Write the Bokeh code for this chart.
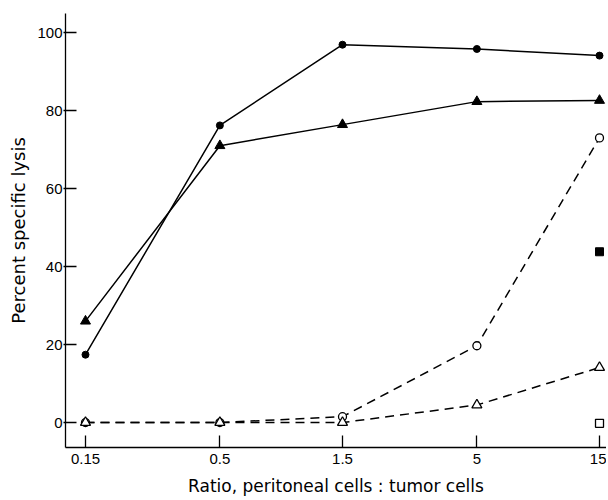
from bokeh.plotting import figure
from bokeh.models import FixedTicker
from bokeh.embed import file_html
from bokeh.resources import INLINE

ratio = [0.15, 0.5, 1.5, 5, 15]
filled_circle = [17.4, 76.2, 96.9, 95.8, 94.1]
filled_triangle = [26.0, 71.0, 76.4, 82.3, 82.6]
open_circle = [0.0, 0.0, 1.5, 19.7, 73.0]
open_triangle = [0.0, 0.0, 0.0, 4.5, 14.1]
sq_x = [15]
filled_square = [43.8]
open_square = [-0.2]
x_tick_labels = ["0.15", "0.5", "1.5", "5", "15"]
y_ticks = [0, 20, 40, 60, 80, 100]

TICK_FONT = "Liberation Sans"
TITLE_FONT = "DejaVu Sans"

p = figure(width=606, height=498, x_axis_type="log",
           x_range=(0.1254, 15.97), y_range=(-6.4, 104.9),
           output_backend="svg", toolbar_location=None,
           min_border_left=65, min_border_right=0, min_border_top=13, min_border_bottom=51)
p.outline_line_color = None
p.grid.visible = False
p.background_fill_color = "white"

# solid series
p.line(ratio, filled_circle, line_color="black", line_width=1.5)
p.scatter(ratio, filled_circle, marker="circle", size=7, fill_color="black", line_color="black")
p.line(ratio, filled_triangle, line_color="black", line_width=1.5)
p.scatter(ratio, filled_triangle, marker="triangle", size=10, fill_color="black", line_color="black")

# dashed series
p.line(ratio, open_circle, line_color="black", line_width=1.5, line_dash="9 6")
p.scatter(ratio, open_circle, marker="circle", size=8, fill_color="white", line_color="black", line_width=1.3)
p.line(ratio, open_triangle, line_color="black", line_width=1.5, line_dash="9 6")
p.scatter(ratio, open_triangle, marker="triangle", size=10, fill_color="white", line_color="black", line_width=1.3)

# squares
p.scatter(sq_x, filled_square, marker="square", size=8, fill_color="black", line_color="black")
p.scatter(sq_x, open_square, marker="square", size=8, fill_color="white", line_color="black", line_width=1.3)

xa = p.xaxis[0]
xa.ticker = FixedTicker(ticks=ratio, minor_ticks=[])
xa.major_label_overrides = {t: l for t, l in zip(ratio, x_tick_labels)}
xa.major_tick_in = 12
xa.major_tick_out = 0
xa.minor_tick_line_color = None
xa.axis_line_color = "black"
xa.major_tick_line_color = "black"
xa.axis_line_width = 1.3
xa.major_tick_line_width = 1.3
xa.major_label_standoff = 6
xa.major_label_text_font = TICK_FONT
xa.major_label_text_font_size = "15px"
xa.major_label_text_color = "black"
xa.axis_label = "Ratio, peritoneal cells : tumor cells"
xa.axis_label_text_font = TITLE_FONT
xa.axis_label_text_font_size = "17px"
xa.axis_label_text_font_style = "normal"
xa.axis_label_text_color = "black"
xa.axis_label_standoff = 9

ya = p.yaxis[0]
ya.ticker = FixedTicker(ticks=y_ticks, minor_ticks=[])
ya.major_tick_in = 11
ya.major_tick_out = 2
ya.minor_tick_line_color = None
ya.axis_line_color = "black"
ya.major_tick_line_color = "black"
ya.axis_line_width = 1.3
ya.major_tick_line_width = 1.3
ya.major_label_standoff = 1
ya.major_label_text_font = TICK_FONT
ya.major_label_text_font_size = "15px"
ya.major_label_text_color = "black"
ya.axis_label = "Percent specific lysis"
ya.axis_label_text_font = TITLE_FONT
ya.axis_label_text_font_size = "18px"
ya.axis_label_text_font_style = "normal"
ya.axis_label_text_color = "black"
ya.axis_label_standoff = 5

open("out.html", "w").write(file_html(p, INLINE))
